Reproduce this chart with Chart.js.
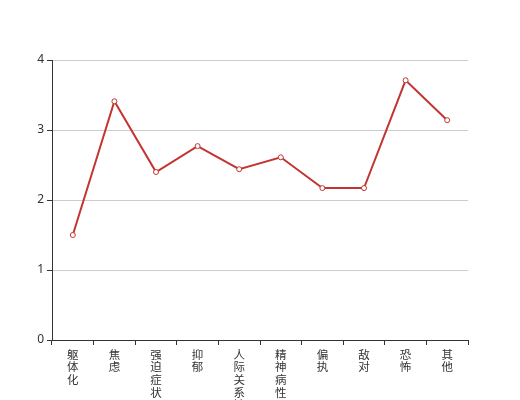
<!DOCTYPE html>
<html>
<head>
<meta charset="utf-8">
<script src="https://cdn.jsdelivr.net/npm/chart.js@4"></script>
<style>
  body { margin: 0; background: #fff; }
  #wrap { width: 520px; height: 400px; }
</style>
</head>
<body>
<div id="wrap"><canvas id="chart"></canvas></div>
<script>
// categories and values
const categories = ['躯体化', '焦虑', '强迫症状', '抑郁', '人际关系敏感', '精神病性', '偏执', '敌对', '恐怖', '其他'];
const scores = [1.5, 3.41, 2.4, 2.77, 2.44, 2.61, 2.17, 2.17, 3.71, 3.14];
const yTicks = [0, 1, 2, 3, 4];

const ctx = document.getElementById('chart').getContext('2d');
new Chart(ctx, {
  type: 'line',
  data: {
    // vertical text: one character per line
    labels: categories.map(c => c.split('')),
    datasets: [{
      data: scores,
      borderColor: '#c23531',
      borderWidth: 2,
      tension: 0,
      pointRadius: 2.5,
      pointBorderWidth: 1,
      pointBackgroundColor: '#fff',
      pointBorderColor: '#c23531',
      fill: false
    }]
  },
  options: {
    responsive: true,
    maintainAspectRatio: false,
    animation: false,
    layout: { padding: { top: 60, right: 52, left: 0, bottom: 0 } },
    plugins: { legend: { display: false }, tooltip: { enabled: false } },
    scales: {
      x: {
        offset: true,
        grid: {
          display: true,
          drawOnChartArea: false,
          offset: true,
          tickLength: 5,
          tickColor: '#333'
        },
        border: { color: '#333', width: 1 },
        ticks: {
          color: '#333',
          font: { size: 11.5, family: 'Noto Sans CJK SC', lineHeight: 1.1 },
          maxRotation: 0,
          autoSkip: false,
          padding: 3
        },
        afterFit(scale) { scale.height = 60; }
      },
      y: {
        min: 0,
        max: 4,
        afterBuildTicks(scale) { scale.ticks = yTicks.map(v => ({ value: v })); },
        grid: {
          color: '#ccc',
          tickLength: 5,
          tickColor: '#333'
        },
        border: { color: '#333', width: 1 },
        ticks: {
          color: '#333',
          font: { size: 12, family: 'Noto Sans' },
          padding: 3
        },
        afterFit(scale) { scale.width = 52; }
      }
    }
  }
});
</script>
</body>
</html>
